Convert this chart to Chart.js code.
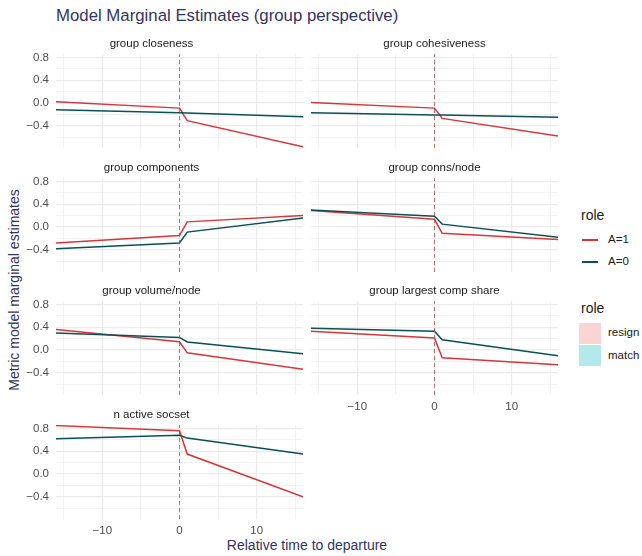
<!DOCTYPE html>
<html>
<head>
<meta charset="utf-8">
<script src="https://cdn.jsdelivr.net/npm/chart.js@4.4.1/dist/chart.umd.min.js"></script>
<style>
  body { margin: 0; background: #fff; font-family: "Liberation Sans", Arial, sans-serif; }
  #wrap { position: relative; width: 642px; height: 556px; overflow: hidden; background: #fff; }
  canvas { position: absolute; }
  .t { position: absolute; white-space: nowrap; line-height: 1; }
  .key { position: absolute; }
</style>
</head>
<body>
<div id="wrap">
  <div class="t" id="title" style="left:56px; top:8px; font-size:16.8px; color:#34345f;">Model Marginal Estimates (group perspective)</div>
  <div class="t" id="ytitle" style="left:14px; top:290px; font-size:14px; color:#34345f; transform:translate(-50%,-50%) rotate(-90deg);">Metric model marginal estimates</div>
  <div class="t" id="xtitle" style="left:307px; top:545px; font-size:14px; color:#34345f; transform:translate(-50%,-50%);">Relative time to departure</div>

  <div class="t" style="left:581px; top:208px; font-size:14px; color:#1a1a1a;">role</div>
  <div class="key" style="left:582px; top:239px; width:16px; height:1.5px; background:#d7373a;"></div>
  <div class="t" style="left:608px; top:234px; font-size:11.5px; color:#1a1a1a;">A=1</div>
  <div class="key" style="left:582px; top:261px; width:16px; height:1.5px; background:#0b5055;"></div>
  <div class="t" style="left:608px; top:256px; font-size:11.5px; color:#1a1a1a;">A=0</div>

  <div class="t" style="left:581px; top:301px; font-size:14px; color:#1a1a1a;">role</div>
  <div class="key" style="left:579px; top:323px; width:22px; height:21px; background:#fbd4d4;"></div>
  <div class="t" style="left:608px; top:327px; font-size:11.5px; color:#1a1a1a;">resign</div>
  <div class="key" style="left:579px; top:345px; width:22px; height:21px; background:#b3e9eb;"></div>
  <div class="t" style="left:608px; top:350px; font-size:11.5px; color:#1a1a1a;">match</div>
</div>
<script>
// facets and values (time -16, 0, 1, 16)
const panelNames = ["group closeness", "group cohesiveness", "group components", "group conns/node",
                    "group volume/node", "group largest comp share", "n active socset"]
const timePoints = [-16, 0, 1, 16]

const closenessA1 = [0.02, -0.09, -0.31, -0.77]
const closenessA0 = [-0.12, -0.17, -0.175, -0.24]
const cohesivenessA1 = [0.01, -0.09, -0.27, -0.58]
const cohesivenessA0 = [-0.17, -0.21, -0.21, -0.25]
const componentsA1 = [-0.28, -0.15, 0.09, 0.2]
const componentsA0 = [-0.38, -0.28, -0.09, 0.16]
const connsA1 = [0.29, 0.135, -0.11, -0.22]
const connsA0 = [0.3, 0.19, 0.05, -0.18]
const volumeA1 = [0.36, 0.145, -0.05, -0.34]
const volumeA0 = [0.3, 0.22, 0.14, -0.065]
const largestA1 = [0.33, 0.21, -0.135, -0.26]
const largestA0 = [0.38, 0.33, 0.18, -0.1]
const socsetA1 = [0.85, 0.76, 0.35, -0.4]
const socsetA0 = [0.62, 0.68, 0.63, 0.35]

const seriesA1 = [closenessA1, cohesivenessA1, componentsA1, connsA1, volumeA1, largestA1, socsetA1]
const seriesA0 = [closenessA0, cohesivenessA0, componentsA0, connsA0, volumeA0, largestA0, socsetA0]

const xTicks = [-15, -10, -5, 0, 5, 10, 15]
const xLabels = [-10, 0, 10]
const yTicks = [-0.6, -0.4, -0.2, 0, 0.2, 0.4, 0.6, 0.8]
const yLabels = [-0.4, 0, 0.4, 0.8]
const xMin = -16, xMax = 16
const yMin = -0.79, yMax = 0.86

const FONT = '"Liberation Sans", Arial, sans-serif'
const RED = '#d7373a'
const GREEN = '#0b5055'

const fmtX = v => (v < 0 ? '\u2212' : '') + Math.abs(v)
const fmtY = v => (v < 0 ? '\u2212' : '') + Math.abs(v).toFixed(1)

// plot area layout: [left, top] of each panel's drawing area
const colLeft = [56, 311]
const rowTop = [54, 178, 301, 425]
const plotW = 247, plotH = 94
const stripH = 21, yAxisW = 56, xAxisH = 22
const withXLabels = [5, 6]

function toPoints(vals) {
  return timePoints.map((t, i) => ({ x: t, y: vals[i] }))
}

// keep tick labels from nudging the plot area
function noPad(s) {
  s.paddingTop = 0; s.paddingBottom = 0; s.paddingLeft = 0; s.paddingRight = 0
}

panelNames.forEach((name, i) => {
  const col = i % 2, row = Math.floor(i / 2)
  const showY = col === 0
  const showX = withXLabels.includes(i)
  const left = showY ? colLeft[col] - yAxisW : colLeft[col]
  const width = plotW + (showY ? yAxisW : 0)
  const height = stripH + plotH + (showX ? xAxisH : 0)

  const cv = document.createElement('canvas')
  cv.width = width
  cv.height = height
  cv.style.left = left + 'px'
  cv.style.top = (rowTop[row] - stripH) + 'px'
  document.getElementById('wrap').appendChild(cv)

  new Chart(cv.getContext('2d'), {
    type: 'line',
    data: {
      datasets: [
        {
          data: [{ x: 0, y: yMin }, { x: 0, y: yMax }],
          borderColor: 'rgba(176,70,70,0.75)',
          borderDash: [4, 3],
          borderWidth: 1,
          pointRadius: 0
        },
        { label: 'A=0', data: toPoints(seriesA0[i]), borderColor: GREEN, borderWidth: 1.5, pointRadius: 0, tension: 0 },
        { label: 'A=1', data: toPoints(seriesA1[i]), borderColor: RED, borderWidth: 1.5, pointRadius: 0, tension: 0 }
      ]
    },
    options: {
      responsive: false,
      animation: false,
      layout: { padding: 0, autoPadding: false },
      plugins: {
        legend: { display: false },
        tooltip: { enabled: false },
        title: {
          display: true,
          text: name,
          color: '#1a1a1a',
          font: { family: FONT, size: 11.5, weight: 'normal', lineHeight: '13px' },
          padding: { top: 4, bottom: 4 }
        }
      },
      scales: {
        x: {
          type: 'linear',
          min: xMin,
          max: xMax,
          afterBuildTicks: s => { s.ticks = xTicks.map(v => ({ value: v })) },
          afterFit: s => { s.height = showX ? xAxisH : 0; noPad(s) },
          border: { display: false },
          grid: {
            color: '#ebebeb',
            drawTicks: false,
            lineWidth: c => (c.tick && xLabels.includes(c.tick.value)) ? 1.2 : 0.7
          },
          ticks: {
            display: showX,
            padding: 5,
            color: '#4d4d4d',
            font: { family: FONT, size: 11.5 },
            maxRotation: 0,
            autoSkip: false,
            callback: v => xLabels.includes(v) ? fmtX(v) : ''
          }
        },
        y: {
          min: yMin,
          max: yMax,
          afterBuildTicks: s => { s.ticks = yTicks.map(v => ({ value: v })) },
          afterFit: s => { s.width = showY ? yAxisW : 0; noPad(s) },
          border: { display: false },
          grid: {
            color: '#ebebeb',
            drawTicks: false,
            lineWidth: c => (c.tick && yLabels.includes(c.tick.value)) ? 1.2 : 0.7
          },
          ticks: {
            display: showY,
            padding: 7,
            color: '#4d4d4d',
            font: { family: FONT, size: 11.5 },
            autoSkip: false,
            callback: v => yLabels.includes(v) ? fmtY(v) : ''
          }
        }
      }
    }
  })
})
</script>
</body>
</html>
